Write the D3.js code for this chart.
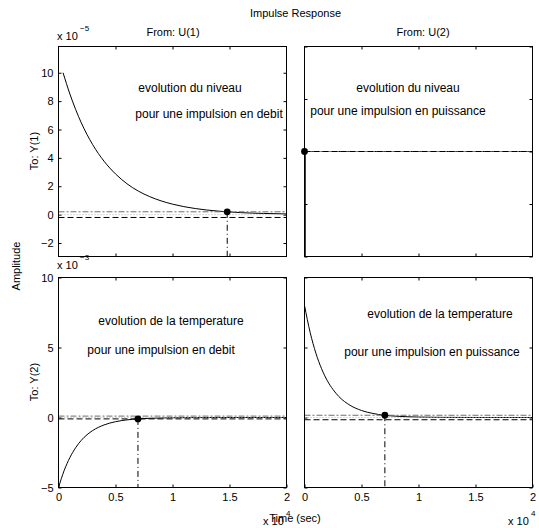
<!DOCTYPE html>
<html>
<head>
<meta charset="utf-8">
<script src="https://cdn.jsdelivr.net/npm/d3@7"></script>
<style>
  body { margin: 0; background: #fff; }
  text { font-family: "Liberation Sans", Arial, Helvetica, sans-serif; fill: #000; }
</style>
</head>
<body>
<svg id="chart" width="539" height="528"></svg>
<script>
// ---- data ----
// level response to a flow impulse (units of 1e-5)
const timeLevelDebit = [400, 1000, 1500, 2000, 2500, 3000, 4000, 5000, 6000, 7000, 8000, 9000, 10000, 12000, 14000, 15000, 16000, 18000, 20000];
const levelDebit     = [10, 8.50, 7.42, 6.47, 5.65, 4.93, 3.76, 2.87, 2.18, 1.66, 1.27, 0.97, 0.74, 0.43, 0.25, 0.19, 0.14, 0.084, 0.049];
// level response to a power impulse
const timeLevelPower = [0, 20000];
const levelPower     = [0, 0];
// temperature responses (units of 1e-3)
const timeTemp   = [0, 500, 1000, 1500, 2000, 2500, 3000, 4000, 5000, 6000, 7000, 8000, 10000, 12000, 14000, 16000, 18000, 20000];
const tempDebit  = [-5, -3.78, -2.86, -2.16, -1.63, -1.23, -0.93, -0.53, -0.30, -0.17, -0.10, -0.057, -0.018, -0.006, -0.002, -0.001, 0, 0];
const tempPower  = [8, 6.06, 4.59, 3.48, 2.63, 2.00, 1.51, 0.87, 0.50, 0.29, 0.16, 0.094, 0.031, 0.010, 0.0034, 0.0011, 0.0004, 0.0001];

// settling-time markers (time in s, value) and the 2% band half-width
const settleTime  = [14800, 0, 6970, 7050];
const settleValue = [0.2, 0, -0.1, 0.16];
const bandHalf    = [0.2, 0, 0.1, 0.16];

// ticks
const xTickValues = [0, 5000, 10000, 15000, 20000];
const xTickLabels = ["0", "0.5", "1", "1.5", "2"];
const yTicksLevel = [-2, 0, 2, 4, 6, 8, 10];
const yTicksFlat  = [-1, -0.5, 0, 0.5, 1];
const yTicksTemp  = [-5, 0, 5, 10];

// ---- layout ----
const svg = d3.select("#chart");
const W = 228, H = 210;
const colX = [58, 304];
const rowY = [46, 277];

const panels = [
  { col: 0, row: 0, t: timeLevelDebit, v: levelDebit, yDomain: [-2.95, 11.85], yTicks: yTicksLevel, yLabels: true,  xLabels: false,
    notes: [["evolution du niveau", 190, 92], ["pour une impulsion en debit", 209, 117.5]] },
  { col: 1, row: 0, t: timeLevelPower, v: levelPower, yDomain: [-1, 1], yTicks: yTicksFlat, yLabels: false, xLabels: false,
    notes: [["evolution du niveau", 408, 91.5], ["pour une impulsion en puissance", 398, 115]] },
  { col: 0, row: 1, t: timeTemp, v: tempDebit, yDomain: [-5, 10], yTicks: yTicksTemp, yLabels: true, xLabels: true,
    notes: [["evolution de la temperature", 171, 325], ["pour une impulsion en debit", 161, 354]] },
  { col: 1, row: 1, t: timeTemp, v: tempPower, yDomain: [-5, 10], yTicks: yTicksTemp, yLabels: false, xLabels: true,
    notes: [["evolution de la temperature", 440, 317.5], ["pour une impulsion en puissance", 432, 356]] }
];

panels.forEach((p, i) => {
  const x = d3.scaleLinear().domain([0, 20000]).range([0, W]);
  const y = d3.scaleLinear().domain(p.yDomain).range([H, 0]);
  const g = svg.append("g").attr("transform", `translate(${colX[p.col] + 0.5},${rowY[p.row] + 0.5})`);

  const clipId = "clip" + i;
  g.append("clipPath").attr("id", clipId).append("rect").attr("width", W).attr("height", H);

  // axes with inward ticks on all four sides
  const ax = (gen, tx, ty) => {
    const a = g.append("g").attr("transform", `translate(${tx},${ty})`).call(gen);
    a.select(".domain").remove();
    a.selectAll("text").attr("font-size", 11).attr("fill", "#000");
    a.selectAll("line").attr("stroke", "#000");
    return a;
  };
  const inner = xTickValues.filter(d => d > 0 && d < 20000);
  ax(d3.axisBottom(x).tickValues(p.xLabels ? xTickValues : inner).tickSizeInner(-3).tickSizeOuter(0).tickPadding(6)
        .tickFormat((d) => p.xLabels ? xTickLabels[xTickValues.indexOf(d)] : ""), 0, H);
  ax(d3.axisTop(x).tickValues(inner).tickSizeInner(-3).tickSizeOuter(0).tickFormat(""), 0, 0);
  ax(d3.axisLeft(y).tickValues(p.yTicks).tickSizeInner(-3).tickSizeOuter(0).tickPadding(5)
        .tickFormat(p.yLabels ? d3.format("d") : () => ""), 0, 0);
  ax(d3.axisRight(y).tickValues(p.yTicks).tickSizeInner(-3).tickSizeOuter(0).tickFormat(""), W, 0);

  const plot = g.append("g").attr("clip-path", `url(#${clipId})`);

  // response curve
  const line = d3.line().x(d => x(d[0])).y(d => y(d[1])).curve(d3.curveMonotoneX);
  plot.append("path").datum(p.t.map((t, k) => [t, p.v[k]]))
    .attr("d", line).attr("fill", "none").attr("stroke", "#000").attr("stroke-width", 1);

  // settling band: upper bound, final value, lower bound
  const hline = (val, color, dash) => plot.append("line")
    .attr("x1", 0).attr("x2", W).attr("y1", y(val)).attr("y2", y(val))
    .attr("stroke", color).attr("stroke-width", 1).attr("stroke-dasharray", dash);
  hline(bandHalf[i], "#6e6e6e", "6,2,2,2");
  hline(0, "#b0b0b0", "1,2");
  hline(-bandHalf[i], "#000", "6,3");

  // settling-time drop line and marker
  plot.append("line")
    .attr("x1", x(settleTime[i])).attr("x2", x(settleTime[i]))
    .attr("y1", y(settleValue[i])).attr("y2", H)
    .attr("stroke", "#000").attr("stroke-width", settleTime[i] === 0 ? 2.5 : 1)
    .attr("stroke-dasharray", settleTime[i] === 0 ? null : "6,3,1,3");
  g.append("circle").attr("cx", x(settleTime[i])).attr("cy", y(settleValue[i])).attr("r", 3.4).attr("fill", "#000");

  // frame
  g.append("rect").attr("width", W).attr("height", H).attr("fill", "none").attr("stroke", "#000").attr("stroke-width", 1);

  // annotations
  p.notes.forEach(n => svg.append("text").attr("x", n[1]).attr("y", n[2])
    .attr("text-anchor", "middle").attr("font-size", 12).text(n[0]));
});

// ---- titles and labels ----
const label = (txt, x, y, size, anchor, rot) => {
  const t = svg.append("text").attr("font-size", size).attr("text-anchor", anchor || "middle").text(txt);
  if (rot) t.attr("transform", `translate(${x},${y}) rotate(-90)`);
  else t.attr("x", x).attr("y", y);
  return t;
};
label("Impulse Response", 295.5, 17, 11);
label("From: U(1)", 173, 36, 11);
label("From: U(2)", 423, 36, 11);
label("To: Y(1)", 37.5, 151, 11, "middle", true);
label("To: Y(2)", 37.5, 382, 11, "middle", true);
label("Amplitude", 20, 266, 11, "middle", true);
label("Time (sec)", 295, 522, 11);

// scale factors
const expo = (x, y, base, sup) => {
  label(base, x, y, 11, "start");
  label(sup, x + 23, y - 9, 8, "start");
};
expo(57, 40, "x 10", "\u22125");
expo(57, 269, "x 10", "\u22123");
expo(263, 525, "x 10", "4");
expo(508, 525, "x 10", "4");
</script>
</body>
</html>
